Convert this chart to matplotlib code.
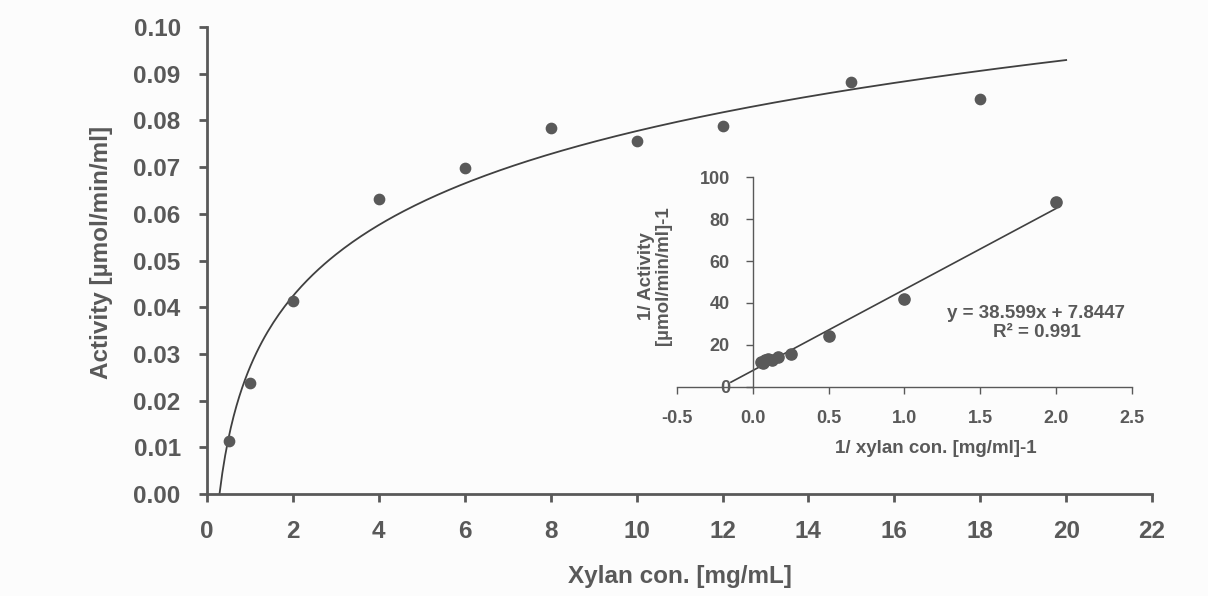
import numpy as np
import matplotlib
matplotlib.use("Agg")
import matplotlib.pyplot as plt
from matplotlib.ticker import FormatStrFormatter

# data
xylan = [0.5, 1, 2, 4, 6, 8, 10, 12, 15, 18]
activity = [0.01135, 0.0238, 0.0413, 0.0632, 0.0698, 0.0784, 0.0756, 0.0788, 0.0883, 0.0846]
main_xticks = [0, 2, 4, 6, 8, 10, 12, 14, 16, 18, 20, 22]
main_yticks = [0.00, 0.01, 0.02, 0.03, 0.04, 0.05, 0.06, 0.07, 0.08, 0.09, 0.10]
inset_xticks = [-0.5, 0.0, 0.5, 1.0, 1.5, 2.0, 2.5]
inset_yticks = [0, 20, 40, 60, 80, 100]
lb_slope = 38.599
lb_intercept = 7.8447
lb_r2 = 0.991

grey = "#595959"
plt.rcParams["font.family"] = ["Liberation Sans", "DejaVu Sans"]
plt.rcParams["font.weight"] = "bold"

fig = plt.figure(figsize=(12.08, 5.96), dpi=100, facecolor="#fcfcfc")

# main plot
ax = fig.add_axes([0.1714, 0.1711, 0.7823, 0.7836])
ax.set_facecolor("#fcfcfc")
ax.scatter(xylan, activity, s=55, color=grey, zorder=3)

# logarithmic trendline fitted to the data
a, b = np.polyfit(np.log(xylan), activity, 1)
xs = np.linspace(np.exp(-b / a), 20, 300)
ax.plot(xs, a * np.log(xs) + b, color="#404040", lw=1.3)

ax.set_xlim(0, 22)
ax.set_ylim(0, 0.10)
ax.set_xticks(main_xticks)
ax.set_yticks(main_yticks)
ax.yaxis.set_major_formatter(FormatStrFormatter("%.2f"))
for s in ["top", "right"]:
    ax.spines[s].set_visible(False)
for s in ["left", "bottom"]:
    ax.spines[s].set_color(grey)
    ax.spines[s].set_linewidth(2.0)
ax.tick_params(colors=grey, labelsize=17.5, width=2.0, length=6, pad=13)
ax.set_xlabel("Xylan con. [mg/mL]", fontsize=17.5, color=grey, fontweight="bold")
ax.set_ylabel("Activity [µmol/min/ml]", fontsize=17.5, color=grey, fontweight="bold")
ax.xaxis.set_label_coords(0.5, -0.153)
ax.yaxis.set_label_coords(-0.0995, 0.518)

# Lineweaver-Burk inset
inv_s = [1 / v for v in xylan]
inv_v = [1 / v for v in activity]
ins = fig.add_axes([0.5604, 0.3507, 0.3767, 0.3523])
ins.patch.set_alpha(0)
ins.scatter(inv_s, inv_v, s=65, color=grey, zorder=3)
lx = np.array([min(inv_s) - 0.2, max(inv_s)])
ins.plot(lx, lb_slope * lx + lb_intercept, color="#404040", lw=1.2)
ins.set_xlim(-0.5, 2.5)
ins.set_ylim(0, 100)
ins.set_xticks(inset_xticks)
ins.set_yticks(inset_yticks)
ins.xaxis.set_major_formatter(FormatStrFormatter("%.1f"))
for s in ["top", "right"]:
    ins.spines[s].set_visible(False)
ins.spines["left"].set_position(("data", 0))
for s in ["left", "bottom"]:
    ins.spines[s].set_color(grey)
    ins.spines[s].set_linewidth(1.0)
ins.tick_params(colors=grey, labelsize=13, width=1.0, length=5, pad=11.5)
ins.set_xlabel("1/ xylan con. [mg/ml]-1", fontsize=13.5, color=grey, fontweight="bold")
ins.xaxis.set_label_coords(0.569, -0.251)
ins.set_ylabel("1/ Activity\n[µmol/min/ml]-1", fontsize=13.5, color=grey, fontweight="bold",
               linespacing=1.0)
ins.yaxis.set_label_coords(-0.011, 0.53)
ins.text(1.87, 30.5, "y = %.3fx + %.4f\nR² = %.3f" % (lb_slope, lb_intercept, lb_r2),
         ha="center", va="center", fontsize=13.5, color=grey, fontweight="bold")

fig.savefig("out.png", dpi=100, facecolor=fig.get_facecolor())
